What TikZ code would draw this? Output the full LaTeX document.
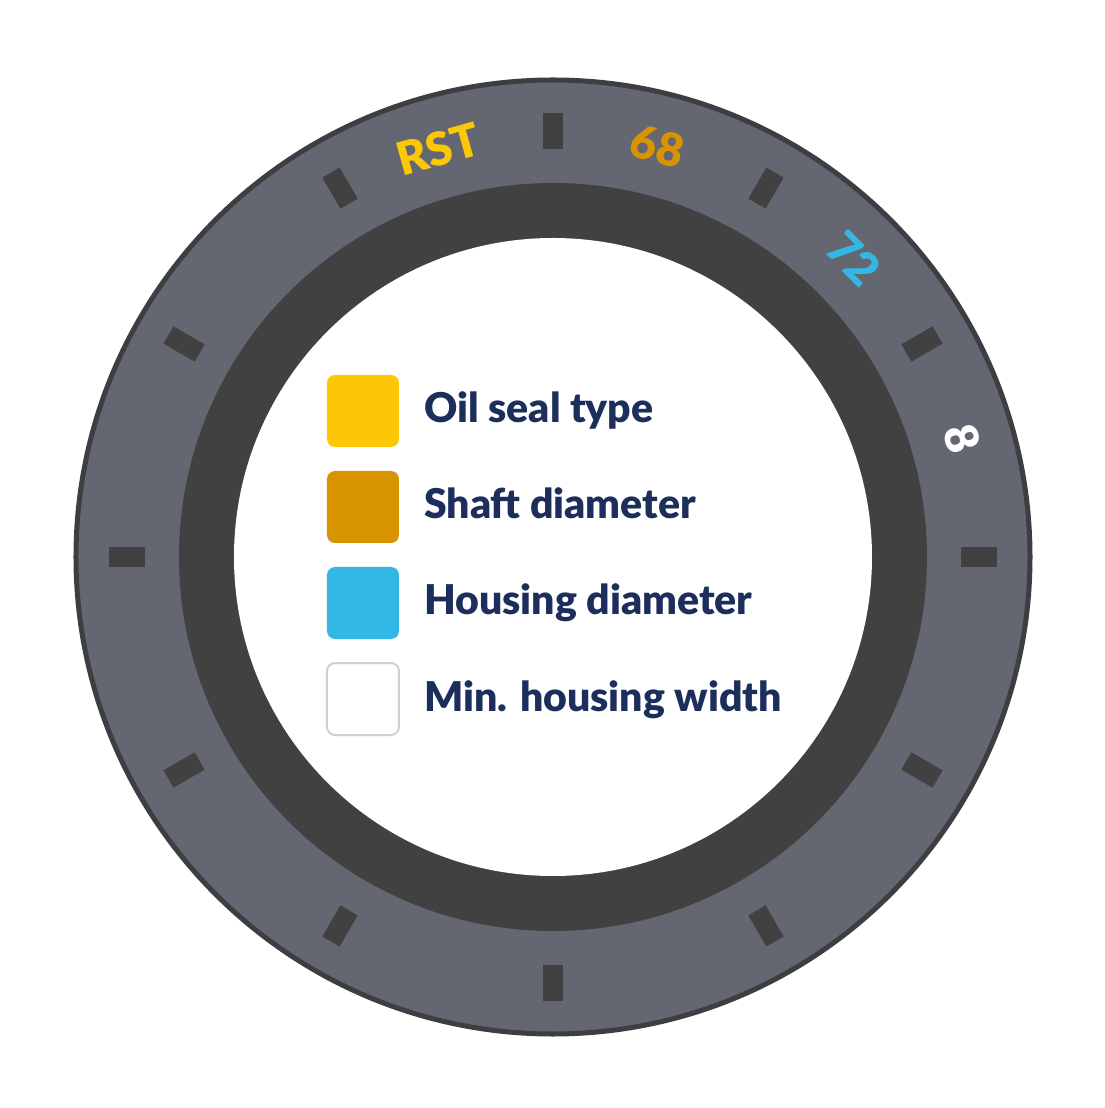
\documentclass[tikz,border=0pt]{standalone}
\usepackage{fontspec}
\setmainfont{Lato}[BoldFont={Lato Black}]
\usepackage{tikz}

\definecolor{ringgray}{HTML}{646771}
\definecolor{ringdark}{HTML}{414141}
\definecolor{rimdark}{HTML}{3D3E42}
\definecolor{sealyellow}{HTML}{FCC707}
\definecolor{shaftorange}{HTML}{D89300}
\definecolor{housingblue}{HTML}{33B7E5}
\definecolor{boxedge}{HTML}{CFCFD8}
\definecolor{navy}{HTML}{1C2F5C}

\begin{document}
\begin{tikzpicture}[x=1pt, y=1pt,
    keybox/.style={minimum size=72pt, inner sep=0pt, rounded corners=8pt},
    legtxt/.style={anchor=base west, inner sep=0pt, text=navy, font=\fontsize{41}{41}\selectfont\bfseries},
    ringlbl/.style={inner sep=0pt, font=\fontsize{46}{46}\selectfont\bfseries}]
    \useasboundingbox (-553,-551) rectangle (551,557);
    \fill[white] (-553,-551) rectangle (551,557);
    % seal rings
    \draw[draw=rimdark, line width=5pt, fill=ringgray] (0,0) circle (477);
    \fill[ringdark] (0,0) circle (374);
    \fill[white] (0,0) circle (319);
    \foreach \a in {0,30,...,330}{
    \fill[ringdark, rotate=\a] (408,-10) rectangle (444,10);
    }
    % markings on the ring
    \node[ringlbl, text=sealyellow, rotate=15.7] (rst) at (105.7:424) {RST};
    \node[ringlbl, text=shaftorange, rotate=-14.3] (shaft) at (75.7:424) {68};
    \node[ringlbl, text=housingblue, rotate=-45.2] (housing) at (44.8:424) {72};
    \node[ringlbl, text=white, rotate=-73.8] (width) at (16.2:426) {8};
    % legend
    \node[keybox, fill=sealyellow] (k1) at (-190,146) {};
    \node[keybox, fill=shaftorange] (k2) at (-190,50) {};
    \node[keybox, fill=housingblue] (k3) at (-190,-46) {};
    \node[keybox, fill=white, draw=boxedge, line width=2pt] (k4) at (-190,-142) {};
    \node[legtxt] (t1) at (-129,134) {Oil seal type};
    \node[legtxt] (t2) at (-129,38) {Shaft diameter};
    \node[legtxt] (t3) at (-129,-58) {Housing diameter};
    \node[legtxt] (t4) at (-129,-154) {Min. housing width};
\end{tikzpicture}
\end{document}
